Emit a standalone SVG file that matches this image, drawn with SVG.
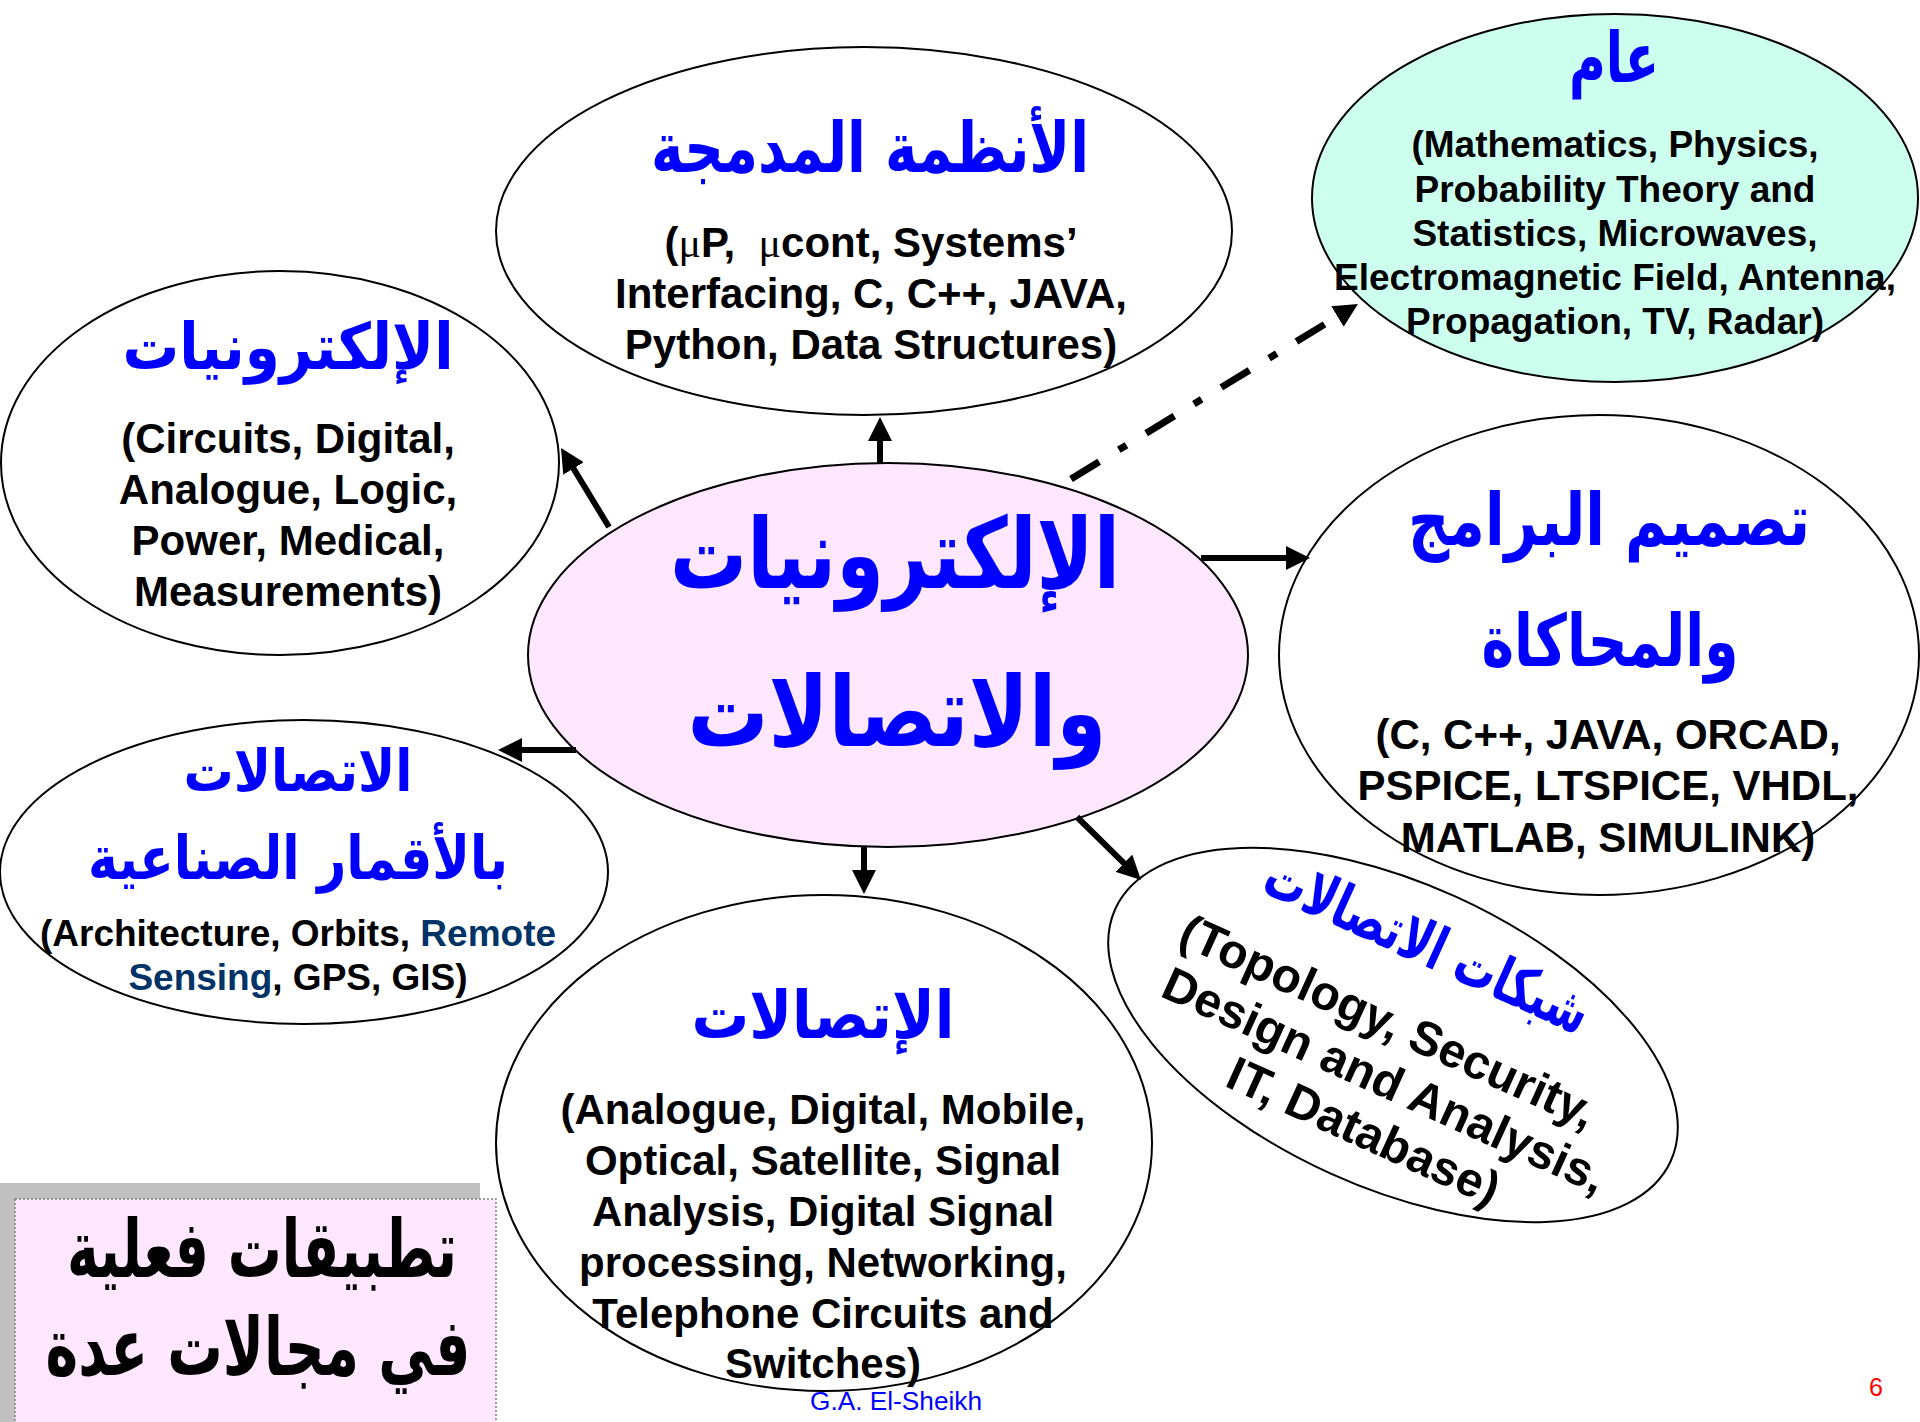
<svg xmlns="http://www.w3.org/2000/svg" width="1920" height="1422" viewBox="0 0 1920 1422">
<style>
.shape{stroke:#000;stroke-width:2}
.ar{font-family:'DejaVu Sans','Noto Sans',sans-serif;font-weight:bold;fill:#0000FF;text-anchor:middle}
.en{font-family:'Liberation Sans',Arial,sans-serif;font-weight:bold;font-size:42px;fill:#000;text-anchor:middle}
.sm{font-size:37px}
.big{font-size:48px}
.rs{fill:#003366}
.mu{font-family:'Liberation Serif','Times New Roman',serif;font-weight:normal}
.conn{stroke:#000;stroke-width:6;fill:none}
.dash{stroke-width:7;stroke-dasharray:33 23 9 23}
</style>
<defs>
<marker id="ah" markerUnits="userSpaceOnUse" markerWidth="24" markerHeight="24" viewBox="0 0 24 24" refX="10" refY="12" orient="auto"><path d="M0,0 L24,12 L0,24 z" fill="#000"/></marker>
</defs>
<rect x="0" y="0" width="1920" height="1422" fill="#fff"/>

<g id="node-center">
<ellipse class="shape" cx="888" cy="655" rx="360" ry="192" fill="#FFE8FF"/>
<text class="ar" x="895" y="588" font-size="98" textLength="450" lengthAdjust="spacingAndGlyphs">الإلكترونيات</text>
<text class="ar" x="897" y="746" font-size="98" textLength="419" lengthAdjust="spacingAndGlyphs">والاتصالات</text>
</g>

<g id="node-electronics">
<ellipse class="shape" cx="280" cy="463" rx="279" ry="192" fill="#fff"/>
<text class="ar" x="288" y="369" font-size="64" textLength="331" lengthAdjust="spacingAndGlyphs">الإلكترونيات</text>
<text class="en" x="288" y="453">(Circuits, Digital,</text>
<text class="en" x="288" y="504">Analogue, Logic,</text>
<text class="en" x="288" y="555">Power, Medical,</text>
<text class="en" x="288" y="606">Measurements)</text>
</g>

<g id="node-embedded">
<ellipse class="shape" cx="864" cy="231" rx="368" ry="184" fill="#fff"/>
<text class="ar" x="870" y="172" font-size="70" textLength="438" lengthAdjust="spacingAndGlyphs">الأنظمة المدمجة</text>
<text class="en" x="871" y="257">(<tspan class="mu">μ</tspan>P, &#160;<tspan class="mu">μ</tspan>cont, Systems’</text>
<text class="en" x="871" y="308">Interfacing, C, C++, JAVA,</text>
<text class="en" x="871" y="359">Python, Data Structures)</text>
</g>

<g id="node-general">
<ellipse class="shape" cx="1615" cy="198" rx="303" ry="184" fill="#CCFFEE"/>
<text class="ar" x="1614" y="82" font-size="70" textLength="90" lengthAdjust="spacingAndGlyphs">عام</text>
<text class="en sm" x="1615" y="157">(Mathematics, Physics,</text>
<text class="en sm" x="1615" y="202">Probability Theory and</text>
<text class="en sm" x="1615" y="246">Statistics, Microwaves,</text>
<text class="en sm" x="1615" y="290">Electromagnetic Field, Antenna,</text>
<text class="en sm" x="1615" y="334">Propagation, TV, Radar)</text>
</g>

<g id="node-software">
<ellipse class="shape" cx="1599" cy="655" rx="320" ry="240" fill="#fff"/>
<text class="ar" x="1609" y="545" font-size="72" textLength="402" lengthAdjust="spacingAndGlyphs">تصميم البرامج</text>
<text class="ar" x="1610" y="666" font-size="72" textLength="257" lengthAdjust="spacingAndGlyphs">والمحاكاة</text>
<text class="en" x="1608" y="749">(C, C++, JAVA, ORCAD,</text>
<text class="en" x="1608" y="800">PSPICE, LTSPICE, VHDL,</text>
<text class="en" x="1608" y="852">MATLAB, SIMULINK)</text>
</g>

<g id="node-satellite">
<ellipse class="shape" cx="304" cy="872" rx="304" ry="152" fill="#fff"/>
<text class="ar" x="298" y="791" font-size="58" textLength="229" lengthAdjust="spacingAndGlyphs">الاتصالات</text>
<text class="ar" x="298" y="879" font-size="60" textLength="420" lengthAdjust="spacingAndGlyphs">بالأقمار الصناعية</text>
<text class="en sm" x="298" y="946">(Architecture, Orbits, <tspan class="rs">Remote</tspan></text>
<text class="en sm" x="298" y="990"><tspan class="rs">Sensing</tspan>, GPS, GIS)</text>
</g>

<g id="node-communications">
<ellipse class="shape" cx="824" cy="1143" rx="328" ry="248" fill="#fff"/>
<text class="ar" x="823" y="1038" font-size="66" textLength="263" lengthAdjust="spacingAndGlyphs">الإتصالات</text>
<text class="en" x="823" y="1124">(Analogue, Digital, Mobile,</text>
<text class="en" x="823" y="1175">Optical, Satellite, Signal</text>
<text class="en" x="823" y="1226">Analysis, Digital Signal</text>
<text class="en" x="823" y="1277">processing, Networking,</text>
<text class="en" x="823" y="1328">Telephone Circuits and</text>
<text class="en" x="823" y="1378">Switches)</text>
</g>

<g id="node-networks" transform="translate(1393,1035) rotate(24.4)">
<ellipse class="shape" cx="0" cy="0" rx="305" ry="152" fill="#fff"/>
<text class="ar" x="-6" y="-76" font-size="60" textLength="350" lengthAdjust="spacingAndGlyphs">شبكات الاتصالات</text>
<text class="en big" x="-10" y="6">(Topology, Security,</text>
<text class="en big" x="11" y="61">Design and Analysis,</text>
<text class="en big" x="13" y="116">IT, Database)</text>
</g>

<g id="node-applications">
<rect x="0" y="1183" width="480" height="239" fill="#C0C0C0"/>
<rect x="15" y="1199" width="481" height="230" fill="#FFE8FF" stroke="#808080" stroke-width="1.5" stroke-dasharray="2 2"/>
<text class="ar" x="262" y="1277" font-size="80" textLength="390" lengthAdjust="spacingAndGlyphs" style="fill:#000">تطبيقات فعلية</text>
<text class="ar" x="258" y="1375" font-size="80" textLength="425" lengthAdjust="spacingAndGlyphs" style="fill:#000">في مجالات عدة</text>
</g>

<g id="connectors">
<line class="conn" x1="609" y1="527" x2="568.3" y2="460" marker-end="url(#ah)"/>
<line class="conn" x1="880" y1="463" x2="880" y2="431" marker-end="url(#ah)"/>
<line class="conn dash" x1="1071" y1="479" x2="1346" y2="311.3" marker-end="url(#ah)"/>
<line class="conn" x1="1201" y1="558" x2="1296" y2="558" marker-end="url(#ah)"/>
<line class="conn" x1="576" y1="750" x2="512" y2="750" marker-end="url(#ah)"/>
<line class="conn" x1="864" y1="847" x2="864" y2="880" marker-end="url(#ah)"/>
<line class="conn" x1="1077" y1="817" x2="1131" y2="870.2" marker-end="url(#ah)"/>
</g>

<g id="footer">
<text x="896" y="1410" font-family="'Liberation Sans',Arial,sans-serif" font-size="25" fill="#0000FF" text-anchor="middle" textLength="172" lengthAdjust="spacingAndGlyphs">G.A. El-Sheikh</text>
<text x="1876" y="1396" font-family="'Liberation Sans',Arial,sans-serif" font-size="25" fill="#FF0000" text-anchor="middle">6</text>
</g>
</svg>
